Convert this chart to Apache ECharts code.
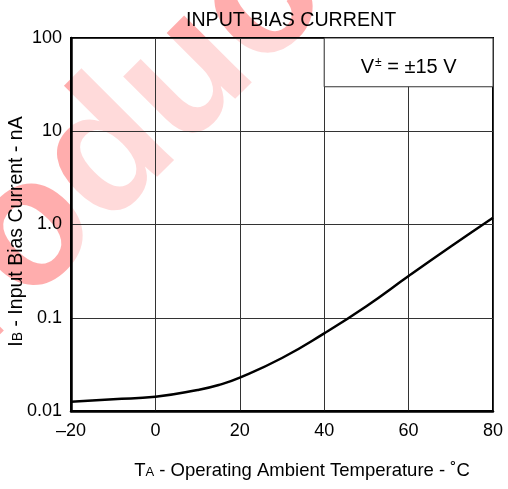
<!DOCTYPE html>
<html>
<head>
    <meta charset="utf-8">
    <title>Input Bias Current</title>
    <script src="https://cdn.jsdelivr.net/npm/echarts@6/dist/echarts.min.js"></script>
    <style>
        html, body { margin: 0; padding: 0; background: #fff; }
        #chart1 { width: 508px; height: 489px; }
    </style>
</head>
<body>
<div id="chart1"></div>
<script type="text/javascript">
    // 曲线数据
    var temps = [-20, -10, 0, 10, 15, 20, 30, 40, 50, 60, 70, 80];
    var biasNA = [0.0126, 0.0134, 0.0142, 0.0168, 0.019, 0.0228, 0.037, 0.068, 0.133, 0.28, 0.58, 1.18];
    var xTicks = [-20, 0, 20, 40, 60, 80];
    var yTickLabels = { '100': '100', '10': '10', '1': '1.0', '0.1': '0.1', '0.01': '0.01' };
    var boxRange = [[40, 30], [80, 100]];   // V± 标注框（数据坐标）

    var font = 'Liberation Sans, Arial, Helvetica, sans-serif';
    var myChart1 = echarts.init(document.getElementById('chart1'));

    var points = temps.map(function (t, i) { return [t, biasNA[i]]; });

    myChart1.setOption({
        animation: false,
        backgroundColor: '#fff',
        textStyle: { fontFamily: font },
        title: {
            text: 'INPUT BIAS CURRENT',
            left: 181,
            top: 6,
            textStyle: { fontSize: 19.6, fontWeight: 'normal', color: '#000', fontFamily: font }
        },
        graphic: [{
            type: 'text',
            x: 98,
            y: 166,
            rotation: Math.PI / 4,
            z: -1,
            silent: true,
            style: {
                text: 'Product',
                fontSize: 180,
                fontWeight: 'bold',
                fontFamily: font,
                fill: 'rgba(255,0,0,0.32)',
                align: 'center',
                verticalAlign: 'middle'
            }
        }],
        grid: {
            left: 71, right: 15, top: 38, bottom: 78,
            outerBoundsMode: 'none',
            show: true,
            backgroundColor: 'rgba(255,255,255,0.55)',
            borderColor: '#000',
            borderWidth: 2
        },
        xAxis: {
            type: 'value',
            min: -20, max: 80, interval: 20,
            name: '{n|T}{s|A}{n| - Operating Ambient Temperature - ˚C}',
            nameLocation: 'middle',
            nameGap: 50,
            nameMoveOverlap: false,
            nameTextStyle: {
                padding: [0, 0, 0, 40],
                rich: {
                    n: { fontSize: 18.5, color: '#000', fontFamily: font },
                    s: { fontSize: 13, color: '#000', fontFamily: font, padding: [3, 0, 0, 0] }
                }
            },
            axisLine: { onZero: false, lineStyle: { color: '#000', width: 2.5 } },
            axisTick: { show: false },
            axisLabel: {
                margin: 11, fontSize: 18, color: '#000',
                formatter: function (v) { return String(v).replace('-', '–'); }
            },
            splitLine: { lineStyle: { color: '#333', width: 1 } }
        },
        yAxis: {
            type: 'log',
            logBase: 10,
            min: 0.01, max: 100,
            name: '{n|I}{s|B}{n| - Input Bias Current - nA}',
            nameLocation: 'middle',
            nameGap: 44,
            nameMoveOverlap: false,
            nameTextStyle: {
                padding: [0, 14, 0, 0],
                rich: {
                    n: { fontSize: 19.5, color: '#000', fontFamily: font },
                    s: { fontSize: 14, color: '#000', fontFamily: font, padding: [3, 0, 0, 0] }
                }
            },
            axisLine: { show: true, onZero: false, lineStyle: { color: '#000', width: 2.5 } },
            axisTick: { show: false },
            axisLabel: {
                margin: 9, fontSize: 18, color: '#000',
                formatter: function (v) {
                    var k = String(+v.toPrecision(3));
                    return yTickLabels[k] || k;
                }
            },
            splitLine: { lineStyle: { color: '#333', width: 1 } }
        },
        series: [{
            type: 'line',
            data: points,
            smooth: true,
            showSymbol: false,
            lineStyle: { color: '#000', width: 2.5 },
            markArea: {
                silent: true,
                itemStyle: { color: '#fff', borderColor: '#333', borderWidth: 1, opacity: 1 },
                label: {
                    show: true,
                    position: 'inside',
                    offset: [0, 5],
                    formatter: '{v|V}{sup|±}{v| = ±15 V}',
                    rich: {
                        v: { fontSize: 20, color: '#000', fontFamily: font },
                        sup: { fontSize: 12, color: '#000', fontFamily: font, padding: [0, 0, 10, 1] }
                    }
                },
                data: [[
                    { coord: boxRange[0] },
                    { coord: boxRange[1] }
                ]]
            }
        }]
    });
</script>
</body>
</html>
